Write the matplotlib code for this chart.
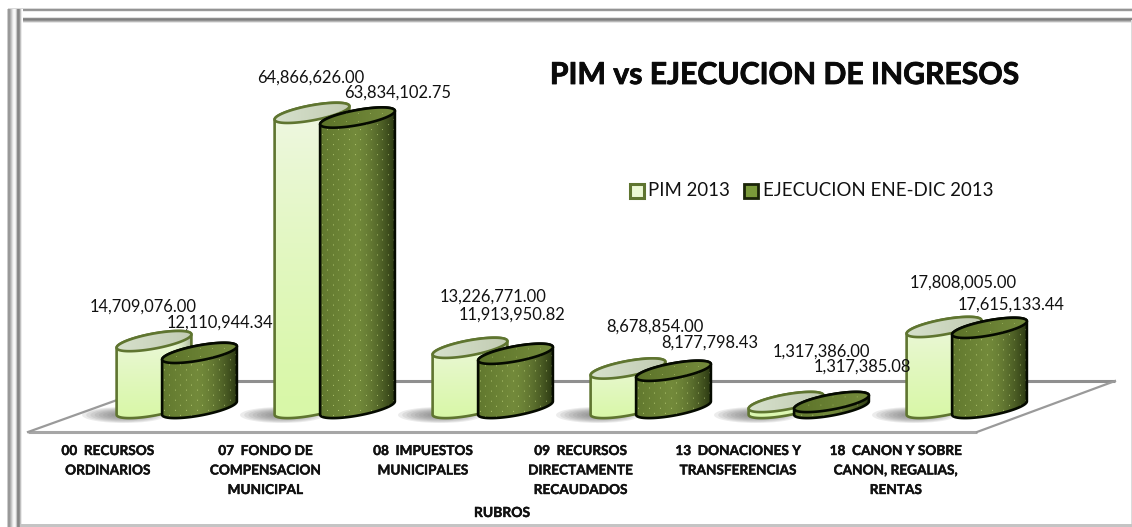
import numpy as np
import matplotlib
matplotlib.use('Agg')
import matplotlib.pyplot as plt
import matplotlib.patheffects as pe
from matplotlib.patches import Polygon, Rectangle

categories = ['00  RECURSOS\nORDINARIOS',
              '07  FONDO DE\nCOMPENSACION\nMUNICIPAL',
              '08  IMPUESTOS\nMUNICIPALES',
              '09  RECURSOS\nDIRECTAMENTE\nRECAUDADOS',
              '13  DONACIONES Y\nTRANSFERENCIAS',
              '18  CANON Y SOBRE\nCANON, REGALIAS,\nRENTAS']
pim = [14709076.00, 64866626.00, 13226771.00, 8678854.00, 1317386.00, 17808005.00]
ejecucion = [12110944.34, 63834102.75, 11913950.82, 8177798.43, 1317385.08, 17615133.44]

# label offsets from the bar top, in pixels (placed by hand in the original)
pim_label_dx = [-11, -1, 23, 27, 35, 19]
pim_label_dy = [34, 35, 51, 41.5, 50, 44]
eje_label_dx = [20.5, 40.5, -3, 36, 30.5, 21.5]
eje_label_dy = [30, 25, 39, 28, 35, 23]

W, H = 1132, 527
PX_PER_CAT = 158.0
X0 = 176.75
BASE = 408.0
PX_PER_UNIT = 4.55e-6
BAR_OFF = 22.75 / PX_PER_CAT
A, B, THETA = 38.0, 7.5, np.radians(10.5)
FONT = 'Lato'

plt.rcParams['font.family'] = [FONT, 'DejaVu Sans']
plt.rcParams['image.composite_image'] = False


def ellipse_pts(t):
    x = A * np.cos(t) * np.cos(THETA) + B * np.sin(t) * np.sin(THETA)
    y = -A * np.cos(t) * np.sin(THETA) + B * np.sin(t) * np.cos(THETA)
    return x, y


def to_data(xc, value, ox, oy):
    return np.column_stack([xc + np.asarray(ox) / PX_PER_CAT,
                            value - np.asarray(oy) / PX_PER_UNIT])


def body_image(kind, w, h):
    u = np.linspace(0, 1, w)[None, :, None]
    v = np.linspace(0, 1, h)[:, None, None]
    if kind == 'pim':
        top = np.array([0.95, 0.97, 0.92])
        bot = np.array([0.85, 0.97, 0.66])
        img = top + (bot - top) * np.clip(v ** 0.7 * 1.05, 0, 1)
        img = img * (1 - 0.30 * np.clip((u - 0.72) / 0.28, 0, 1) ** 2)
    else:
        left = np.array([0.38, 0.47, 0.18])
        mid = np.array([0.45, 0.54, 0.23])
        right = np.array([0.15, 0.20, 0.06])
        img = np.where(u < 0.45, left + (mid - left) * u / 0.45,
                       mid + (right - mid) * ((u - 0.45) / 0.55) ** 1.7)
        yy, xx = np.mgrid[0:h, 0:w]
        dots = ((yy % 10 == 2) & (xx % 11 == 3)) | ((yy % 10 == 7) & (xx % 11 == 8))
        img = np.where(dots[:, :, None], img + (np.array([0.88, 0.96, 0.6]) - img) * 0.55, img)
    return np.clip(img, 0, 1)


def top_image(kind, w, h):
    u = np.linspace(0, 1, w)[None, :, None]
    if kind == 'pim':
        left = np.array([0.84, 0.88, 0.80])
        right = np.array([0.76, 0.80, 0.70])
        img = left + (right - left) * u * np.ones((h, w, 3))
    else:
        left = np.array([0.36, 0.45, 0.16])
        right = np.array([0.46, 0.55, 0.24])
        img = left + (right - left) * u * np.ones((h, w, 3))
        yy, xx = np.mgrid[0:h, 0:w]
        dots = (yy % 8 == 2) & (xx % 12 == 3)
        img = np.where(dots[:, :, None], img + (np.array([0.85, 0.95, 0.55]) - img) * 0.35, img)
    return img


def draw_shadow(bg, cx):
    # stacked soft layers on the floor, left of the bar (pixel layer)
    tt = np.linspace(0, 2 * np.pi, 60)
    for k in range(10):
        f = 1 - k / 10
        bg.add_patch(Polygon(np.column_stack([cx - 30 + 42 * f * np.cos(tt),
                                              BASE + 7 + 8 * f * np.sin(tt)]),
                             closed=True, fc='#707070', ec='none', alpha=0.13, zorder=2.5))


def draw_bar(ax, xc, value, kind, z):
    edge = '#5f7530' if kind == 'pim' else '#050a00'
    top_px = BASE - value * PX_PER_UNIT
    t0 = np.arctan2(B * np.sin(THETA), A * np.cos(THETA))
    low = np.linspace(np.pi + t0, t0, 60)
    up = np.linspace(t0, t0 - np.pi, 60)
    lx, ly = ellipse_pts(low)
    ux, uy = ellipse_pts(up)
    outline = np.vstack([to_data(xc, 0, lx, ly), to_data(xc, value, ux, uy)])

    hw = 39
    h_px = int(max(BASE - top_px + 30, 4))
    im = ax.imshow(body_image(kind, 2 * hw, h_px),
                   extent=(xc - hw / PX_PER_CAT, xc + hw / PX_PER_CAT,
                           -15 / PX_PER_UNIT, value + 15 / PX_PER_UNIT),
                   aspect='auto', zorder=z, interpolation='bilinear')
    clip = Polygon(outline, closed=True, transform=ax.transData, fc='none', ec='none')
    ax.add_patch(clip)
    im.set_clip_path(clip)
    ax.add_patch(Polygon(outline, closed=True, fc='none', ec=edge, lw=1.9, zorder=z + 0.1, joinstyle='round'))

    tt = np.linspace(0, 2 * np.pi, 120)
    ex, ey = ellipse_pts(tt)
    rim = to_data(xc, value, ex, ey)
    im2 = ax.imshow(top_image(kind, 2 * hw, 30),
                    extent=(xc - hw / PX_PER_CAT, xc + hw / PX_PER_CAT,
                            value - 15 / PX_PER_UNIT, value + 15 / PX_PER_UNIT),
                    aspect='auto', zorder=z + 0.2, interpolation='bilinear')
    clip2 = Polygon(rim, closed=True, transform=ax.transData, fc='none', ec='none')
    ax.add_patch(clip2)
    im2.set_clip_path(clip2)
    ax.add_patch(Polygon(rim, closed=True, fc='none', ec=edge, lw=1.9, zorder=z + 0.3))


fig = plt.figure(figsize=(W / 100, H / 100), dpi=100, facecolor='white')

# background layer in pixels: frame, floor, texts
bg = fig.add_axes([0, 0, 1, 1])
bg.axis('off')

profile = np.array([0.80, 0.60, 0.60, 0.68, 0.78, 0.88, 0.95, 0.97, 0.93, 0.78, 0.55, 0.52, 0.58, 0.75, 0.92, 1.0])
bg.imshow(profile[None, :], extent=(7, 23, H, 9), cmap='gray', vmin=0, vmax=1, aspect='auto', zorder=2)
top_prof = np.array([0.85, 0.58, 0.60, 0.92, 1, 1, 1, 1, 1, 0.88, 0.55, 0.50, 0.58, 0.72, 0.90, 1.0])
bg.imshow(top_prof[:, None], extent=(8, W, 24, 8), cmap='gray', vmin=0, vmax=1, aspect='auto', zorder=1)
bg.add_patch(Rectangle((20, 524), W - 20, 2.5, fc='#c4c4c4', ec='none', zorder=3))
bg.add_patch(Rectangle((W - 1.5, 20), 1.5, 505, fc='#dcdcdc', ec='none', zorder=1))

floor = '#9a9a9a'
bg.plot([170, 1115], [381, 381], color='#8f8f8f', lw=2.2, zorder=3, solid_capstyle='butt')
bg.plot([28, 977], [432, 432], color='#a6a6a6', lw=2.2, zorder=3, solid_capstyle='butt')
bg.plot([28, 170], [432, 381], color=floor, lw=1.6, zorder=3)
bg.plot([977, 1115], [432, 381], color=floor, lw=1.6, zorder=3)

bg.text(784, 75, 'PIM vs EJECUCION DE INGRESOS', ha='center', va='center',
        fontsize=21.7, fontweight='bold', color='#0a0a0a',
        path_effects=[pe.withStroke(linewidth=0.6, foreground='#0a0a0a')])

for i, label in enumerate(categories):
    draw_shadow(bg, X0 + PX_PER_CAT * (i - BAR_OFF))
    for j, line in enumerate(label.split('\n')):
        bg.text(108 + 157.6 * i, 451 + 19.5 * j, line, ha='center', va='center',
                fontsize=9.8, fontweight='bold', color='#111111',
                path_effects=[pe.withStroke(linewidth=0.3, foreground='#111111')])
bg.text(502, 513, 'RUBROS', ha='center', va='center', fontsize=10, fontweight='bold', color='#111111',
        path_effects=[pe.withStroke(linewidth=0.3, foreground='#111111')])

# legend
bg.add_patch(Rectangle((630, 184), 14, 14, fc='#ecf8d4', ec='#5f7530', lw=2.2))
bg.text(648, 191, 'PIM 2013', ha='left', va='center', fontsize=13.4, color='#111111')
bg.add_patch(Rectangle((744, 184), 14, 14, fc='#7a9a3a', ec='#1a2408', lw=2.0))
bg.text(763, 191, 'EJECUCION ENE-DIC 2013', ha='left', va='center', fontsize=13.4, color='#111111')
bg.set_xlim(0, W)
bg.set_ylim(H, 0)

# chart layer: category / value scales
ax = fig.add_axes([0, 0, 1, 1], facecolor='none')
for i in range(len(categories)):
    draw_bar(ax, i - BAR_OFF, pim[i], 'pim', 5 + i * 2)
    draw_bar(ax, i + BAR_OFF, ejecucion[i], 'eje', 6 + i * 2)
    ax.annotate(f'{pim[i]:,.2f}', (i - BAR_OFF, pim[i]),
                xytext=(pim_label_dx[i] * 0.72, pim_label_dy[i] * 0.72), textcoords='offset points',
                ha='center', va='center', fontsize=11.9, color='#111111', zorder=40)
    ax.annotate(f'{ejecucion[i]:,.2f}', (i + BAR_OFF, ejecucion[i]),
                xytext=(eje_label_dx[i] * 0.72, eje_label_dy[i] * 0.72), textcoords='offset points',
                ha='center', va='center', fontsize=11.9, color='#111111', zorder=41)
ax.set_xlim((0 - X0) / PX_PER_CAT, (W - X0) / PX_PER_CAT)
ax.set_ylim((BASE - H) / PX_PER_UNIT, BASE / PX_PER_UNIT)
ax.axis('off')

fig.savefig('out.png', dpi=100)
